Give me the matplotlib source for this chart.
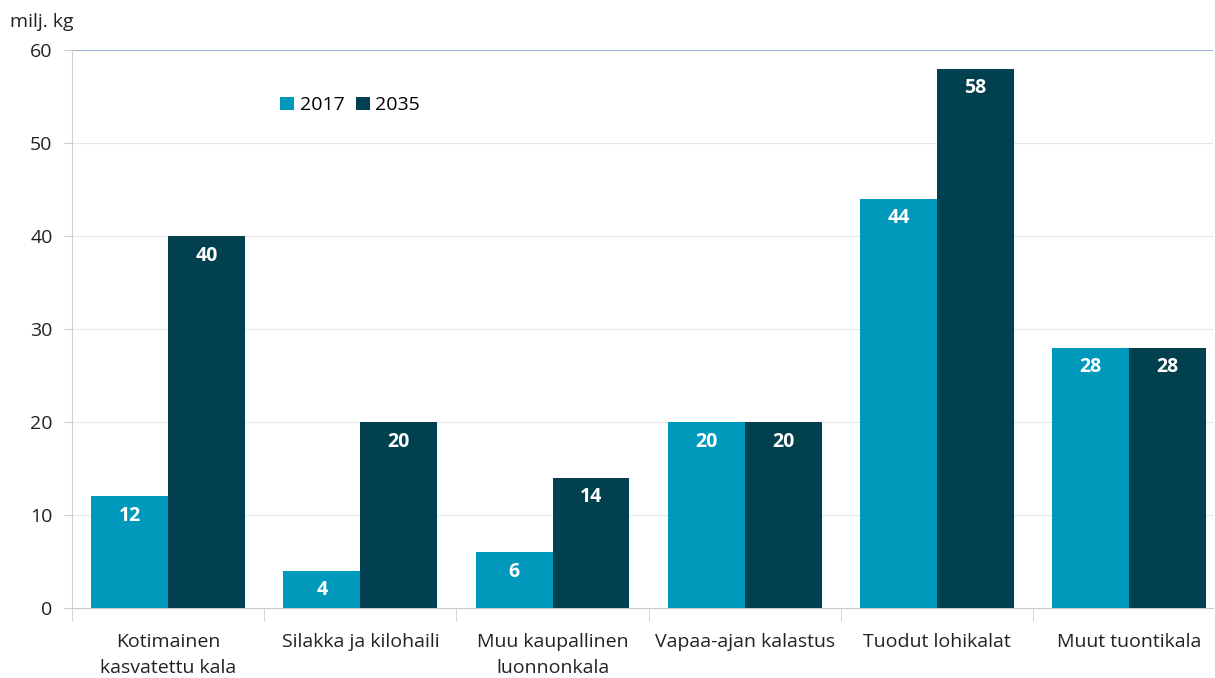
import numpy as np
import matplotlib.pyplot as plt

plt.rcParams['font.family'] = ['Open Sans', 'DejaVu Sans']

categories = ['Kotimainen\nkasvatettu kala', 'Silakka ja kilohaili', 'Muu kaupallinen\nluonnonkala',
              'Vapaa-ajan kalastus', 'Tuodut lohikalat', 'Muut tuontikala']
v2017 = [12, 4, 6, 20, 44, 28]
v2035 = [40, 20, 14, 20, 58, 28]

c2017 = '#0099BC'
c2035 = '#00404F'

fig = plt.figure(figsize=(12.15, 6.78), dpi=100)
ax = fig.add_axes([0.0593, 0.1032, 0.9391, 0.8231])

x = np.arange(len(categories))
w = 0.4
b1 = ax.bar(x - w/2, v2017, w, color=c2017, label='2017', zorder=3)
b2 = ax.bar(x + w/2, v2035, w, color=c2035, label='2035', zorder=3)

for bars in (b1, b2):
    for r in bars:
        h = r.get_height()
        ax.text(r.get_x() + r.get_width()/2, h - 2.1, f'{h:g}', ha='center', va='center',
                color='white', fontsize=14, fontweight='bold', zorder=4)

# kuva on rajattu oikealta, viimeinen luokka ei mahdu kokonaan
ax.set_xlim(-0.5, 5.436)
ax.set_ylim(0, 60)
ax.set_yticks(range(0, 61, 10))
ax.grid(axis='y', color='#e6e6e6', linewidth=0.8, zorder=0)
ax.axhline(60, color='#8eaadb', linewidth=1.2, zorder=2)

ax.set_xticks(x)
ax.set_xticklabels(categories, fontsize=14, color='#222222', linespacing=1.6)
ax.set_xticks(np.arange(-0.5, 5.4, 1), minor=True)
ax.tick_params(axis='x', which='major', length=0, pad=18)
ax.tick_params(axis='x', which='minor', length=9, color='#cccccc')
ax.tick_params(axis='y', length=6, color='#cccccc', labelsize=14, labelcolor='#222222', pad=8)

for s in ['top', 'right']:
    ax.spines[s].set_visible(False)
ax.spines['left'].set_color('#d0d0d0')
ax.spines['bottom'].set_color('#c8c8c8')

fig.text(0.008, 0.968, 'milj. kg', fontsize=14, color='#222222', ha='left', va='center')

ax.legend(loc='upper left', bbox_to_anchor=(0.167, 0.948), ncol=2, frameon=False, fontsize=14,
          handlelength=0.7, handleheight=0.7, handletextpad=0.3, columnspacing=0.6)

fig.savefig('out.png', dpi=100)
